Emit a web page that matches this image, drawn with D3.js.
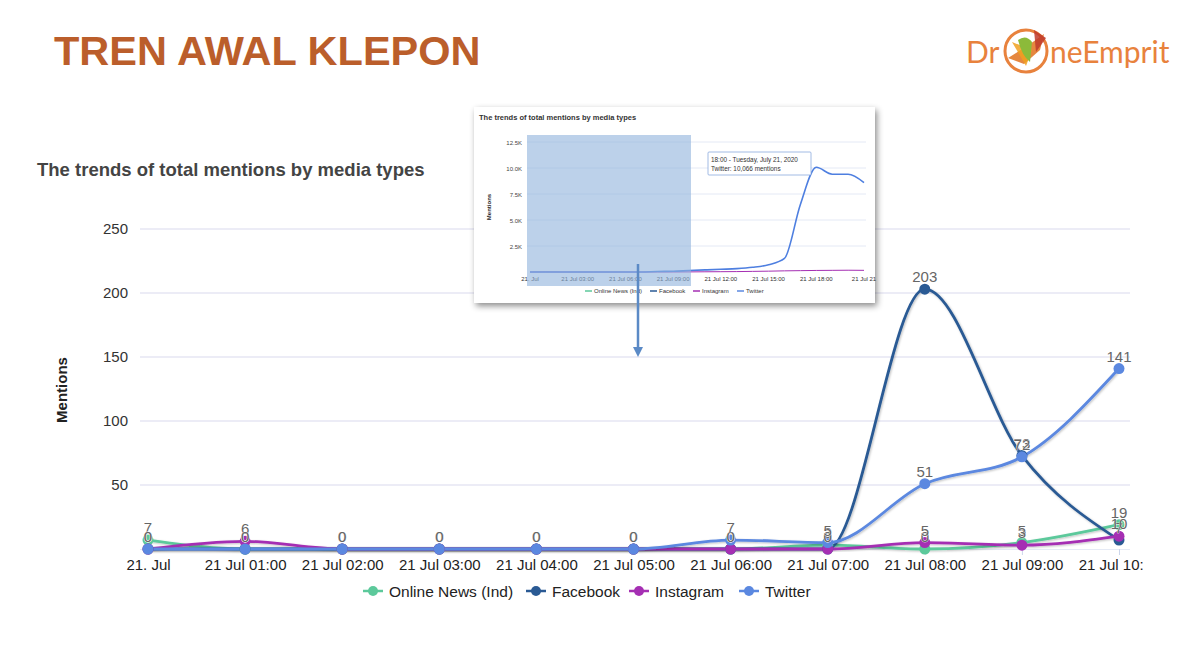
<!DOCTYPE html>
<html><head><meta charset="utf-8">
<script src="https://cdn.jsdelivr.net/npm/d3@7"></script>
<style>body{margin:0;background:#fff;}svg{display:block;font-family:"Liberation Sans",Arial,sans-serif;}</style>
</head><body>
<svg id="c" width="1200" height="662"></svg>
<script>
// ---------- data ----------
const categories = ["21. Jul","21 Jul 01:00","21 Jul 02:00","21 Jul 03:00","21 Jul 04:00","21 Jul 05:00","21 Jul 06:00","21 Jul 07:00","21 Jul 08:00","21 Jul 09:00","21 Jul 10:00"];
const seriesNames = ["Online News (Ind)","Facebook","Instagram","Twitter"];
const seriesColors = ["#5cc99b","#2a5a94","#a52fb3","#5b88e0"];
const onlineNews = [7,0,0,0,0,0,0,3,0,5,19];
const facebook   = [0,0,0,0,0,0,0,0,203,73,7];
const instagram  = [0,6,0,0,0,0,0,0,5,3,10];
const twitter    = [0,0,0,0,0,0,7,5,51,72,141];
const yTicks = [50,100,150,200,250];
// inset (screenshot of the full-day chart)
const insetHours = d3.range(0,22);
const insetTwitter = [0,0,0,0,0,0,7,5,51,72,141,200,260,320,450,700,1300,6500,10066,9400,9400,8600];
const insetInstagram = [0,6,0,0,0,0,0,0,5,3,10,20,30,40,60,80,110,130,150,160,170,160];
const insetTicks = [2500,5000,7500,10000,12500];
const insetTickLabels = ["2.5K","5.0K","7.5K","10.0K","12.5K"];
const insetXTicks = [0,3,6,9,12,15,18,21];
const insetXLabels = ["21. Jul","21 Jul 03:00","21 Jul 06:00","21 Jul 09:00","21 Jul 12:00","21 Jul 15:00","21 Jul 18:00","21 Jul 21"];

const svg = d3.select("#c");
const defs = svg.append("defs");
const sh = defs.append("filter").attr("id","lineShadow").attr("x","-10%").attr("y","-10%").attr("width","120%").attr("height","130%");
sh.append("feDropShadow").attr("dx",1).attr("dy",1).attr("stdDeviation",1.2).attr("flood-color","#000").attr("flood-opacity",0.25);
const bs = defs.append("filter").attr("id","boxShadow").attr("x","-5%").attr("y","-5%").attr("width","112%").attr("height","115%");
bs.append("feDropShadow").attr("dx",2).attr("dy",3).attr("stdDeviation",3).attr("flood-color","#000").attr("flood-opacity",0.45);
defs.append("clipPath").attr("id","xclip").append("rect").attr("x",0).attr("y",0).attr("width",1143).attr("height",662);

// ---------- header ----------
svg.append("text").attr("x",54).attr("y",65).attr("font-size",41.5).attr("font-weight","bold")
  .attr("fill","#bb5e2b").text("TREN AWAL KLEPON");

// logo
const logo = svg.append("g");
logo.append("text").attr("x",966).attr("y",63).attr("font-size",30).attr("fill","#e8823d")
  .attr("font-family","Lato, 'Open Sans', sans-serif").text("Dr");
logo.append("circle").attr("cx",1026).attr("cy",51).attr("r",21).attr("fill","none").attr("stroke","#e8823d").attr("stroke-width",3);
logo.append("path").attr("d","M1008,58 L1030,44 L1044,34 L1040,50 L1024,64 Z").attr("fill","#e27a2a").attr("opacity",0.9);
logo.append("path").attr("d","M1012,42 L1032,50 L1026,66 Z").attr("fill","#f0a020").attr("opacity",0.85);
logo.append("path").attr("d","M1018,40 Q1026,34 1032,42 L1030,62 Q1022,56 1018,40 Z").attr("fill","#8cba3a");
logo.append("path").attr("d","M1034,30 L1046,38 L1036,52 Z").attr("fill","#c0392b").attr("opacity",0.85);
logo.append("text").attr("x",1050).attr("y",63).attr("font-size",30).attr("fill","#e8823d")
  .attr("font-family","Lato, 'Open Sans', sans-serif").text("neEmprit");

// ---------- main chart ----------
const x = d3.scaleLinear().domain([0,categories.length-1]).range([148,1119]);
const y = d3.scaleLinear().domain([0,250]).range([549,229]);

svg.append("text").attr("x",37).attr("y",176).attr("font-size",18.5).attr("font-weight","bold")
  .attr("fill","#444").text("The trends of total mentions by media types");

// grid
svg.append("g").selectAll("line").data(yTicks).join("line")
  .attr("x1",140).attr("x2",1130).attr("y1",d=>y(d)).attr("y2",d=>y(d))
  .attr("stroke","#d9d9ee").attr("stroke-width",1.2);
// y axis labels
svg.append("g").selectAll("text").data(yTicks).join("text")
  .attr("x",128).attr("y",d=>y(d)+5).attr("text-anchor","end").attr("font-size",15).attr("fill","#333").text(d=>d);
svg.append("text").attr("transform","translate(67,390) rotate(-90)").attr("text-anchor","middle")
  .attr("font-size",15).attr("font-weight","bold").attr("fill","#222").text("Mentions");

// x axis
const xAxis = d3.axisBottom(x).tickValues(d3.range(categories.length)).tickFormat(i=>categories[i]).tickSize(6).tickPadding(4);
const xg = svg.append("g").attr("transform","translate(0,549)").attr("clip-path","url(#xclip)").call(xAxis);
xg.select(".domain").attr("d","M140,0H1130").attr("stroke","#ccd6eb");
xg.selectAll(".tick line").attr("stroke","#ccd6eb");
xg.selectAll(".tick text").attr("font-size",15).attr("fill","#222").attr("font-family","'Liberation Sans',Arial,sans-serif");

// lines
const allSeries = [onlineNews,facebook,instagram,twitter];
const line = d3.line().x((d,i)=>x(i)).y(d=>y(d)).curve(d3.curveMonotoneX);
const lg = svg.append("g");
allSeries.forEach((s,k)=>{
  lg.append("path").attr("d",line(s)).attr("fill","none").attr("stroke",seriesColors[k])
    .attr("stroke-width",2.8).attr("filter","url(#lineShadow)");
});
allSeries.forEach((s,k)=>{
  lg.append("g").selectAll("circle").data(s).join("circle")
    .attr("cx",(d,i)=>x(i)).attr("cy",d=>y(d)).attr("r",5.5).attr("fill",seriesColors[k]);
});
// data labels (they overlap in the original too)
allSeries.forEach((s,k)=>{
  lg.append("g").selectAll("text").data(s).join("text")
    .attr("x",(d,i)=>x(i)).attr("y",d=>y(d)-7).attr("text-anchor","middle")
    .attr("font-size",15).attr("fill","#666")
    .attr("stroke","#fff").attr("stroke-width",0.6).attr("paint-order","stroke")
    .text(d=>d);
});

// legend
const legendX = [363,526,629,739];
const leg = svg.append("g");
seriesNames.forEach((n,k)=>{
  const g = leg.append("g").attr("transform",`translate(${legendX[k]},591)`);
  g.append("line").attr("x1",0).attr("x2",20).attr("y1",0).attr("y2",0).attr("stroke",seriesColors[k]).attr("stroke-width",2.5);
  g.append("circle").attr("cx",10).attr("cy",0).attr("r",5).attr("fill",seriesColors[k]);
  g.append("text").attr("x",26).attr("y",5.5).attr("font-size",15.5).attr("fill","#222").text(n);
});

// ---------- inset ----------
const ins = svg.append("g");
ins.append("rect").attr("x",474).attr("y",107).attr("width",401).attr("height",196).attr("fill","#fff").attr("filter","url(#boxShadow)");
ins.append("text").attr("x",479).attr("y",120).attr("font-size",7.5).attr("font-weight","bold").attr("fill","#333")
  .text("The trends of total mentions by media types");
const ix = d3.scaleLinear().domain([0,21]).range([530,864]);
const iy = d3.scaleLinear().domain([0,12500]).range([272,142]);
ins.append("g").selectAll("line").data(insetTicks).join("line")
  .attr("x1",527).attr("x2",866).attr("y1",d=>iy(d)).attr("y2",d=>iy(d)).attr("stroke","#dde3f2").attr("stroke-width",0.8);
ins.append("g").selectAll("text").data(insetTicks).join("text")
  .attr("x",522).attr("y",d=>iy(d)+2.5).attr("text-anchor","end").attr("font-size",6).attr("fill","#444")
  .text((d,i)=>insetTickLabels[i]);
ins.append("text").attr("transform","translate(491,207) rotate(-90)").attr("text-anchor","middle")
  .attr("font-size",6).attr("font-weight","bold").attr("fill","#222").text("Mentions");
ins.append("g").selectAll("text").data(insetXTicks).join("text")
  .attr("x",d=>ix(d)).attr("y",281).attr("text-anchor","middle").attr("font-size",6).attr("fill","#333")
  .text((d,i)=>insetXLabels[i]);
const iline = d3.line().x((d,i)=>ix(insetHours[i])).y(d=>iy(d)).curve(d3.curveMonotoneX);
ins.append("path").attr("d",iline(insetInstagram)).attr("fill","none").attr("stroke","#a52fb3").attr("stroke-width",1);
ins.append("path").attr("d",iline(insetTwitter)).attr("fill","none").attr("stroke","#4e7fe0").attr("stroke-width",1.6);
// selection highlight
ins.append("rect").attr("x",527).attr("y",135).attr("width",164).attr("height",151).attr("fill","#8fb3dc").attr("opacity",0.6);
// tooltip
ins.append("rect").attr("x",708).attr("y",152).attr("width",103).attr("height",23).attr("fill","#fff")
  .attr("stroke","#8aa9dd").attr("stroke-width",0.8).attr("rx",1);
ins.append("text").attr("x",711).attr("y",162).attr("font-size",6.4).attr("fill","#333").text("18:00 - Tuesday, July 21, 2020");
ins.append("text").attr("x",711).attr("y",171).attr("font-size",6.4).attr("fill","#333").text("Twitter: 10,066 mentions");
// inset legend
const ilegX = [585,650,693,737];
seriesNames.forEach((n,k)=>{
  const g = ins.append("g").attr("transform",`translate(${ilegX[k]},291)`);
  g.append("line").attr("x1",0).attr("x2",7).attr("stroke",seriesColors[k]).attr("stroke-width",1.5);
  g.append("text").attr("x",9).attr("y",2).attr("font-size",6).attr("fill","#333").text(n);
});

// arrow
svg.append("line").attr("x1",638).attr("y1",264).attr("x2",638).attr("y2",348).attr("stroke","#5b8ac6").attr("stroke-width",2.5);
svg.append("path").attr("d","M633,347 L643,347 L638,357 Z").attr("fill","#5b8ac6");
</script>
</body></html>
